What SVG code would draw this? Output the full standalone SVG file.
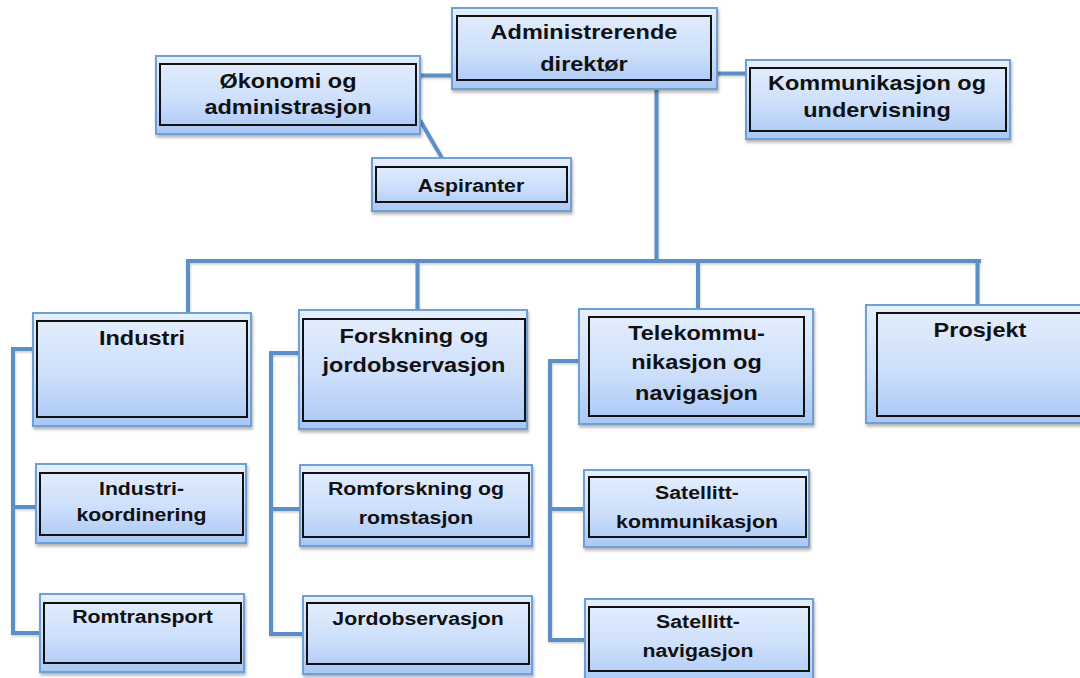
<svg xmlns="http://www.w3.org/2000/svg" width="1080" height="678" viewBox="0 0 1080 678">
<defs>
<linearGradient id="bg" x1="0" y1="0" x2="0" y2="1">
<stop offset="0" stop-color="#e6effd"/>
<stop offset="0.55" stop-color="#cddffb"/>
<stop offset="1" stop-color="#a9c7f5"/>
</linearGradient>
<filter id="sh" x="-10%" y="-10%" width="125%" height="130%">
<feDropShadow dx="1" dy="2.5" stdDeviation="1.8" flood-color="#000" flood-opacity="0.3"/>
</filter>
<filter id="csh" filterUnits="userSpaceOnUse" x="0" y="0" width="1080" height="678">
<feDropShadow dx="0.5" dy="1.5" stdDeviation="1" flood-color="#000" flood-opacity="0.2"/>
</filter>
</defs>
<style>
.o{fill:url(#bg);stroke:#6e9fd6;stroke-width:2;filter:url(#sh)}
.i{fill:none;stroke:#111;stroke-width:2}
.t{font-family:"Liberation Sans",Arial,Helvetica,sans-serif;font-weight:bold;fill:#111;text-anchor:middle}
.b{font-size:21px}
.s{font-size:19px}
.c{fill:none;stroke:#5b8ec7;stroke-width:4;stroke-linecap:square}
</style>
<rect width="1080" height="678" fill="#fff"/>
<g id="connectors" filter="url(#csh)">
<path class="c" d="M421,75.5 H451"/>
<path class="c" d="M718,73.5 H745"/>
<path class="c" d="M421,122 L442,158"/>
<path class="c" d="M656.5,90 V261"/>
<path class="c" d="M188,261 H979"/>
<path class="c" d="M188,261 V312"/>
<path class="c" d="M417.5,261 V309"/>
<path class="c" d="M698,261 V308"/>
<path class="c" d="M977.5,261 V304"/>
<path class="c" d="M13,349 H36 M13,349 V633 M13,507 H39 M13,633 H43"/>
<path class="c" d="M271,353 H302 M271,353 V634 M271,509 H302 M271,634 H306"/>
<path class="c" d="M550,361 H588 M550,361 V640 M550,509 H588 M550,640 H588"/>
</g>
<g id="admin">
<rect class="o" x="452" y="8" width="265" height="81"/>
<rect class="i" x="457" y="16" width="254" height="64"/>
<text class="t b" transform="translate(584 0) scale(1.12 1)"><tspan x="0" y="39">Administrerende</tspan><tspan x="0" y="71">direktør</tspan></text>
</g>
<g id="okonomi">
<rect class="o" x="156" y="56" width="264" height="78"/>
<rect class="i" x="160" y="64" width="256" height="61"/>
<text class="t b" transform="translate(288 0) scale(1.12 1)"><tspan x="0" y="88">Økonomi og</tspan><tspan x="0" y="114">administrasjon</tspan></text>
</g>
<g id="kommunikasjon">
<rect class="o" x="746" y="60" width="264" height="79"/>
<rect class="i" x="750" y="68" width="256" height="63"/>
<text class="t b" transform="translate(877 0) scale(1.12 1)"><tspan x="0" y="90">Kommunikasjon og</tspan><tspan x="0" y="117">undervisning</tspan></text>
</g>
<g id="aspiranter">
<rect class="o" x="372" y="158" width="199" height="53"/>
<rect class="i" x="376" y="167" width="191" height="35"/>
<text class="t s" transform="translate(471 0) scale(1.12 1)"><tspan x="0" y="192.5">Aspiranter</tspan></text>
</g>
<g id="industri">
<rect class="o" x="33" y="313" width="218" height="113"/>
<rect class="i" x="37" y="321" width="210" height="96"/>
<text class="t b" transform="translate(142 0) scale(1.12 1)"><tspan x="0" y="345">Industri</tspan></text>
</g>
<g id="forskning">
<rect class="o" x="299" y="310" width="228" height="119"/>
<rect class="i" x="303" y="319" width="222" height="102"/>
<text class="t b" transform="translate(414 0) scale(1.12 1)"><tspan x="0" y="343">Forskning og</tspan><tspan x="0" y="372.5">jordobservasjon</tspan></text>
</g>
<g id="telekom">
<rect class="o" x="579" y="309" width="234" height="115"/>
<rect class="i" x="589" y="317" width="215" height="99"/>
<text class="t b" transform="translate(696.5 0) scale(1.12 1)"><tspan x="0" y="340">Telekommu-</tspan><tspan x="0" y="369">nikasjon og</tspan><tspan x="0" y="400">navigasjon</tspan></text>
</g>
<g id="prosjekt">
<rect class="o" x="866" y="305" width="230" height="118"/>
<rect class="i" x="877" y="313" width="220" height="103"/>
<text class="t b" transform="translate(980 0) scale(1.12 1)"><tspan x="0" y="337">Prosjekt</tspan></text>
</g>
<g id="industrikoordinering">
<rect class="o" x="36" y="464" width="210" height="79"/>
<rect class="i" x="40" y="473" width="203" height="62"/>
<text class="t s" transform="translate(141.5 0) scale(1.12 1)"><tspan x="0" y="495">Industri-</tspan><tspan x="0" y="521">koordinering</tspan></text>
</g>
<g id="romtransport">
<rect class="o" x="40" y="594" width="204" height="78"/>
<rect class="i" x="44" y="603" width="197" height="60"/>
<text class="t s" transform="translate(142.5 0) scale(1.12 1)"><tspan x="0" y="623">Romtransport</tspan></text>
</g>
<g id="romforskning">
<rect class="o" x="300" y="465" width="232" height="81"/>
<rect class="i" x="303" y="473" width="226" height="64"/>
<text class="t s" transform="translate(416 0) scale(1.12 1)"><tspan x="0" y="495">Romforskning og</tspan><tspan x="0" y="524">romstasjon</tspan></text>
</g>
<g id="jordobservasjon">
<rect class="o" x="303" y="596" width="229" height="78"/>
<rect class="i" x="307" y="603" width="222" height="61"/>
<text class="t s" transform="translate(418 0) scale(1.12 1)"><tspan x="0" y="625">Jordobservasjon</tspan></text>
</g>
<g id="satellittkommunikasjon">
<rect class="o" x="584" y="470" width="225" height="77"/>
<rect class="i" x="589" y="477" width="217" height="60"/>
<text class="t s" transform="translate(697 0) scale(1.12 1)"><tspan x="0" y="499">Satellitt-</tspan><tspan x="0" y="528">kommunikasjon</tspan></text>
</g>
<g id="satellittnavigasjon">
<rect class="o" x="585" y="599" width="228" height="85"/>
<rect class="i" x="589" y="607" width="220" height="64"/>
<text class="t s" transform="translate(698 0) scale(1.12 1)"><tspan x="0" y="628">Satellitt-</tspan><tspan x="0" y="657">navigasjon</tspan></text>
</g>
</svg>
